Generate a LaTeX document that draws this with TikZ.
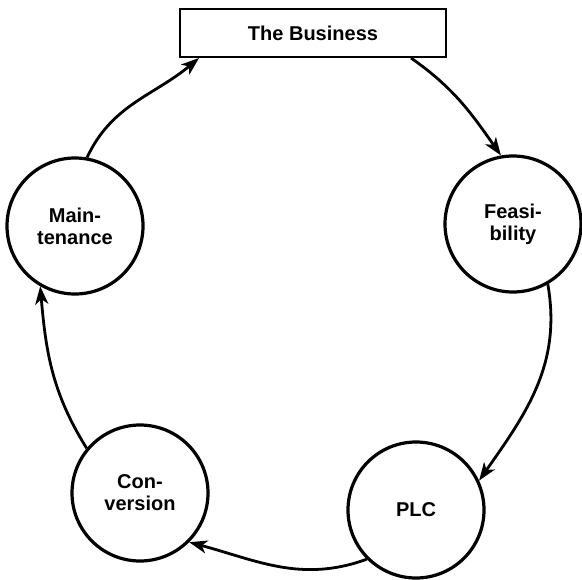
\documentclass[tikz,border=0pt]{standalone}
\usepackage{fontspec}
\setmainfont{Liberation Sans}
\usetikzlibrary{arrows.meta, positioning}
\tikzset{
  stage/.style={circle, draw=black, line width=1.6pt, minimum size=68pt,
                inner sep=0pt, align=center, font=\bfseries\fontsize{10}{11}\selectfont},
  bizbox/.style={rectangle, draw=black, line width=1pt, minimum width=133pt,
                 minimum height=24pt, font=\bfseries\fontsize{10}{11}\selectfont},
  arrow/.style={-{Stealth[length=9pt,width=6.5pt,inset=2.5pt]}, line width=1.4pt},
}
\begin{document}
\begin{tikzpicture}[x=0.5pt, y=0.5pt]
  \useasboundingbox (0,0) rectangle (582,579);
  \node[bizbox] (biz) at (313,546) {The Business};
  \node[stage] (maint) at (75,353) {Main-\\tenance};
  \node[stage] (feas) at (513,355) {Feasi-\\bility};
  \node[stage] (plc) at (416,69) {PLC};
  \node[stage] (conv) at (140,86) {Con-\\version};

  \draw[arrow] (maint.80) to[out=65, in=-140] ([xshift=10pt]biz.south west);
  \draw[arrow] ([xshift=-18pt]biz.south east) to[out=-35, in=125] (feas.100);
  \draw[arrow] (feas.-60) to[out=-80, in=55] (plc.25);
  \draw[arrow] (plc.-135) to[out=-160, in=-15] (conv.-45);
  \draw[arrow] (conv.140) to[out=122, in=-85] (maint.-120);
\end{tikzpicture}
\end{document}
